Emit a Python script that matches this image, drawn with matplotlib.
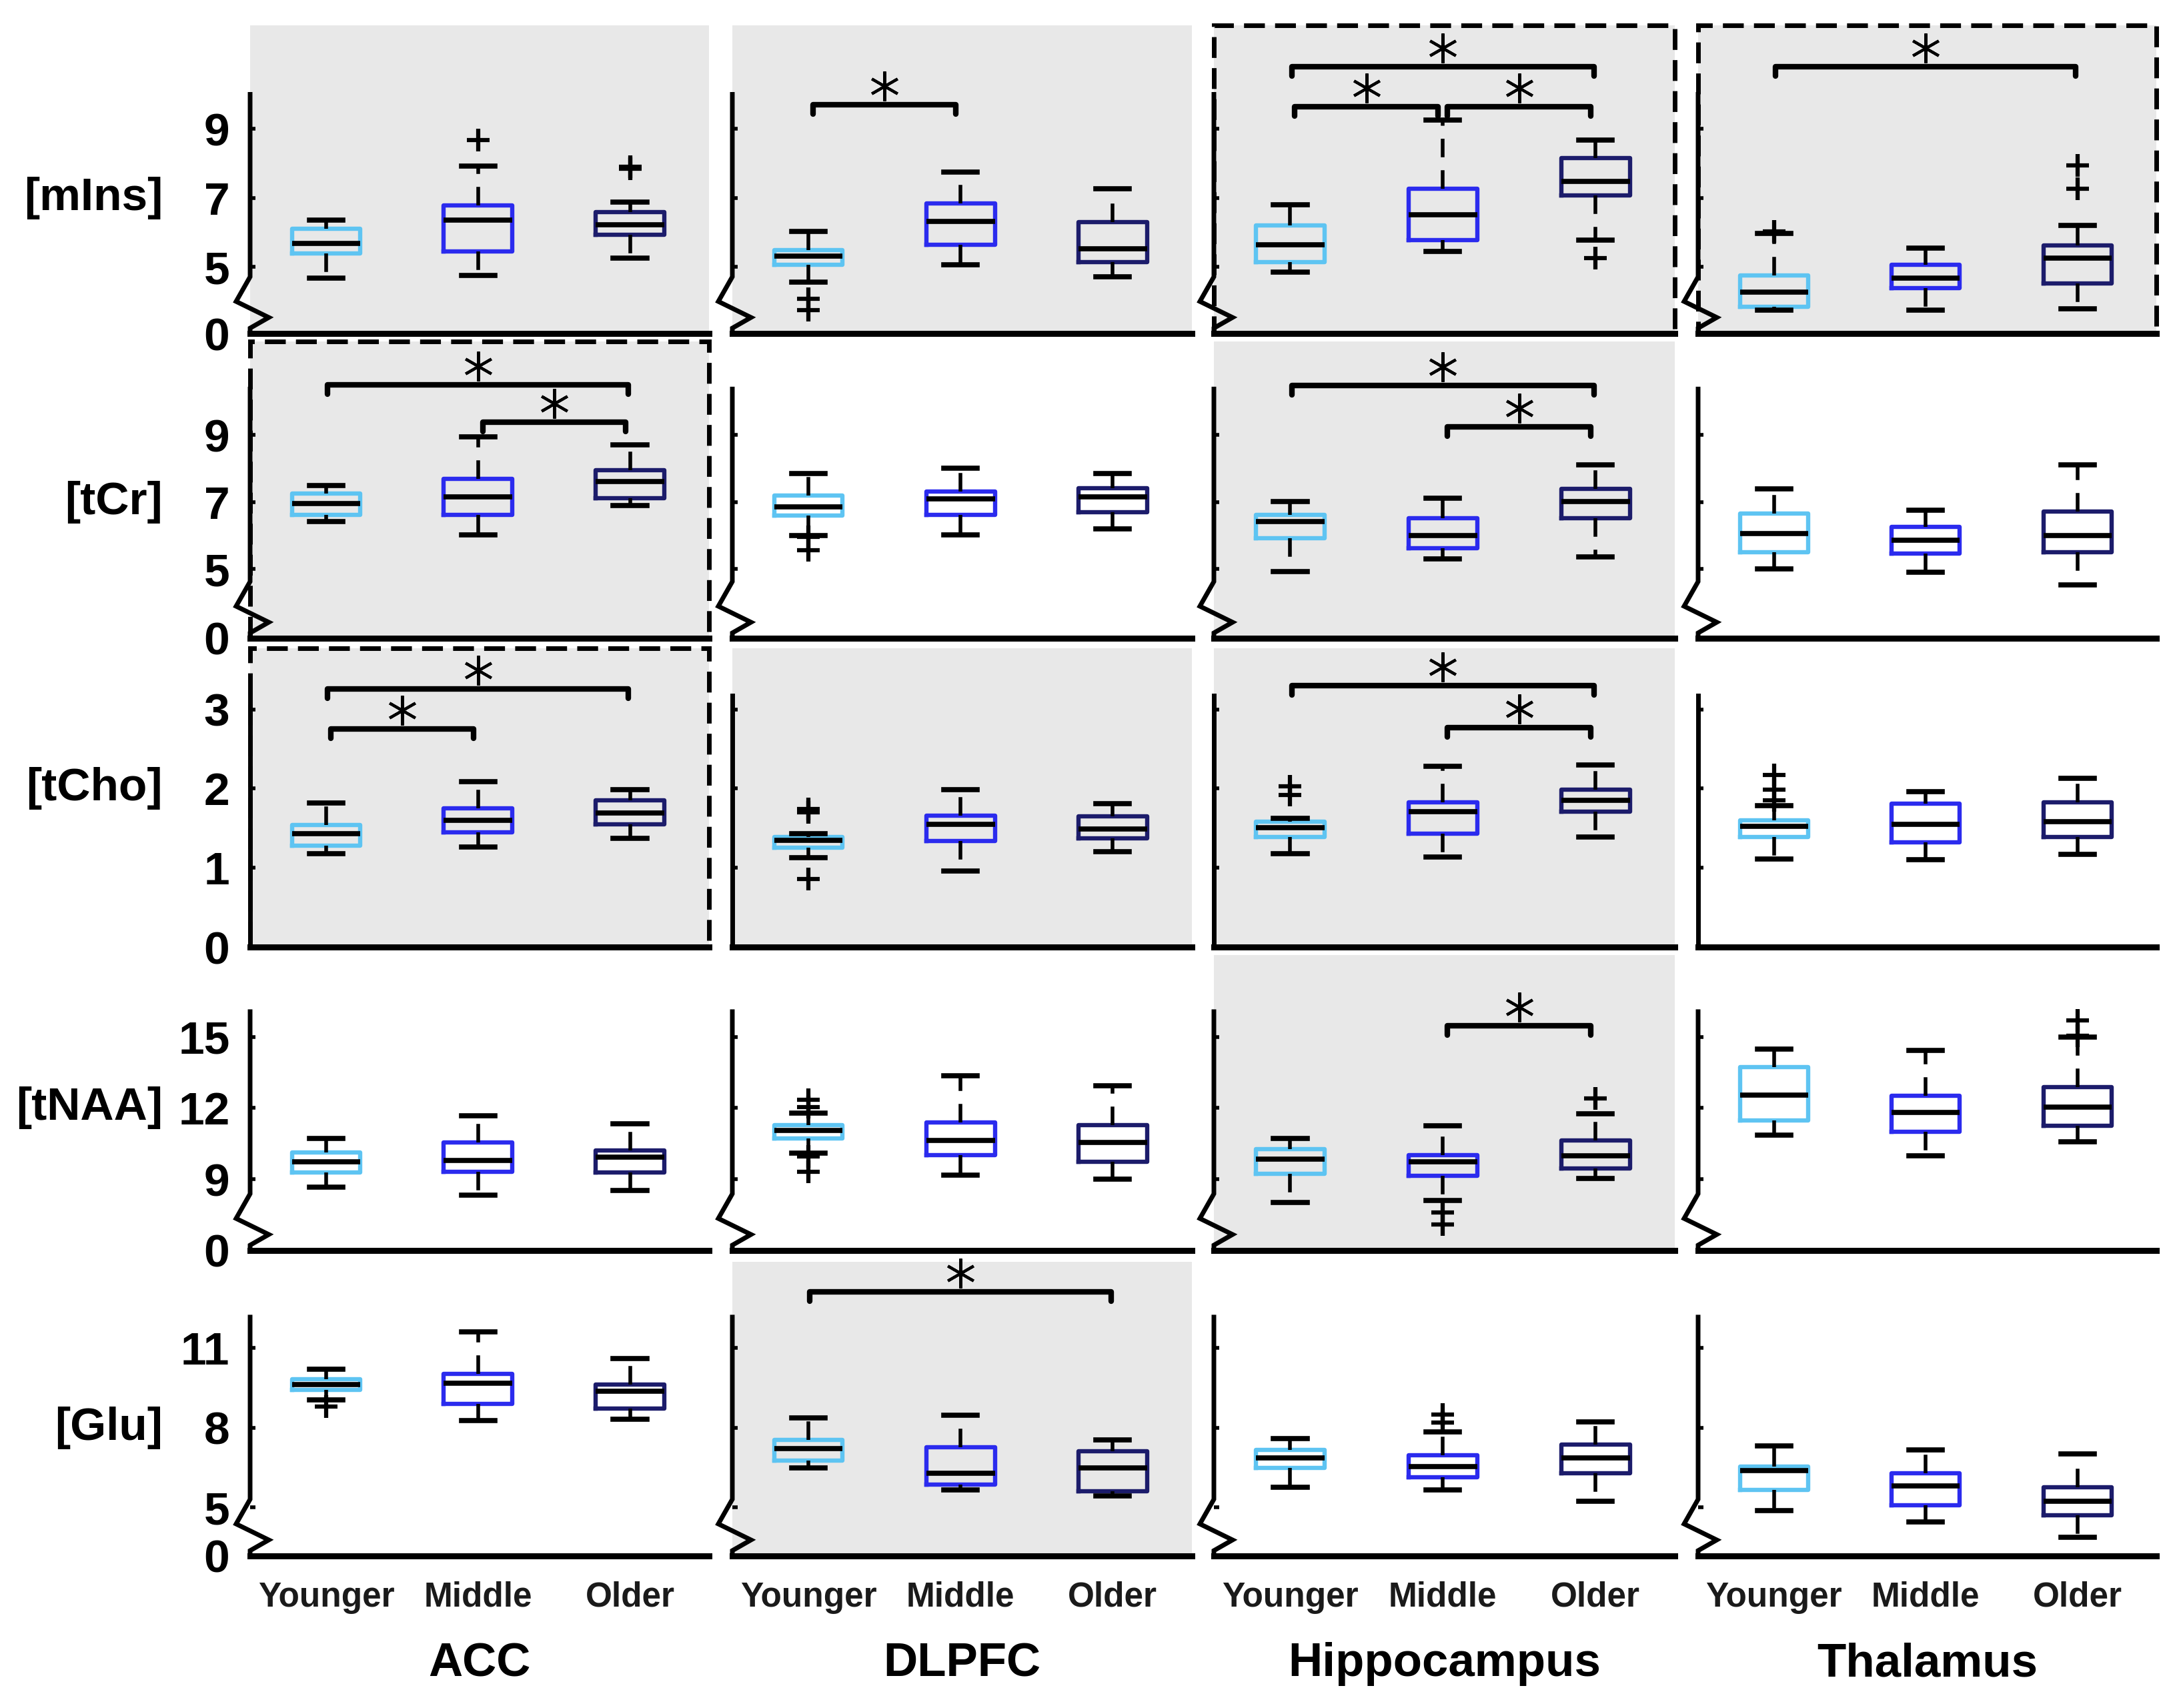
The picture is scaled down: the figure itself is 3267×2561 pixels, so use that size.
import matplotlib
matplotlib.use("Agg")
import matplotlib.pyplot as plt
from matplotlib.patches import Rectangle
from matplotlib import transforms

plt.rcParams["font.family"] = ["Liberation Sans", "DejaVu Sans"]

regions = ["ACC", "DLPFC", "Hippocampus", "Thalamus"]
groups = ["Younger", "Middle", "Older"]
metabolites = ["[mIns]", "[tCr]", "[tCho]", "[tNAA]", "[Glu]"]

# -------------------------------------------------
# box statistics: one row per region, one entry per age group
# -------------------------------------------------
mins_q1 = [[5.39, 5.45, 5.93], [5.06, 5.65, 5.13], [5.13, 5.77, 7.07], [3.84, 4.38, 4.52]]
mins_med = [[5.68, 6.35, 6.22], [5.32, 6.32, 5.52], [5.65, 6.52, 7.48], [4.26, 4.67, 5.25]]
mins_q3 = [[6.10, 6.78, 6.58], [5.48, 6.84, 6.30], [6.20, 7.26, 8.15], [4.75, 5.06, 5.62]]
mins_lo = [[4.67, 4.75, 5.25], [4.55, 5.06, 4.71], [4.84, 5.45, 5.77], [3.74, 3.74, 3.78]]
mins_hi = [[6.35, 7.92, 6.87], [6.03, 7.74, 7.26], [6.80, 9.25, 8.67], [5.97, 5.54, 6.20]]
mins_out = [[[], [8.67], [7.84, 7.90]], [[4.07, 3.74], [], []],
            [[], [], [5.25]], [[6.02], [], [7.26, 7.94]]]

tcr_q1 = [[6.61, 6.61, 7.11], [6.59, 6.61, 6.69], [5.92, 5.62, 6.51], [5.50, 5.46, 5.50]]
tcr_med = [[6.95, 7.15, 7.60], [6.85, 7.09, 7.15], [6.41, 5.99, 7.01], [6.05, 5.86, 5.99]]
tcr_q3 = [[7.25, 7.69, 7.95], [7.19, 7.31, 7.41], [6.61, 6.51, 7.39], [6.65, 6.25, 6.71]]
tcr_lo = [[6.41, 6.01, 6.89], [6.00, 6.01, 6.19], [4.92, 5.30, 5.36], [5.00, 4.90, 4.52]]
tcr_hi = [[7.49, 8.94, 8.70], [7.85, 8.00, 7.85], [7.01, 7.11, 8.10], [7.39, 6.75, 8.10]]
tcr_out = [[[], [], []], [[5.95, 5.55], [], []], [[], [], []], [[], [], []]]

tcho_q1 = [[1.28, 1.45, 1.55], [1.25, 1.34, 1.37], [1.39, 1.43, 1.71], [1.39, 1.32, 1.39]]
tcho_med = [[1.43, 1.60, 1.69], [1.35, 1.55, 1.49], [1.51, 1.71, 1.85], [1.52, 1.55, 1.58]]
tcho_q3 = [[1.54, 1.75, 1.85], [1.39, 1.66, 1.65], [1.58, 1.83, 1.99], [1.60, 1.81, 1.83]]
tcho_lo = [[1.18, 1.26, 1.37], [1.13, 0.96, 1.20], [1.18, 1.14, 1.39], [1.11, 1.10, 1.17]]
tcho_hi = [[1.82, 2.09, 1.99], [1.43, 1.99, 1.81], [1.62, 2.28, 2.30], [1.78, 1.96, 2.13]]
tcho_out = [[[], [], []], [[1.70, 1.74, 0.86], [], []],
            [[1.92, 2.03], [], []], [[1.85, 1.99, 2.17], [], []]]

tnaa_q1 = [[9.28, 9.31, 9.28], [10.72, 10.01, 9.73], [9.23, 9.14, 9.45], [11.48, 11.00, 11.25]]
tnaa_med = [[9.73, 9.79, 9.93], [11.06, 10.63, 10.55], [9.85, 9.73, 9.99], [12.55, 11.82, 12.04]]
tnaa_q3 = [[10.13, 10.55, 10.21], [11.28, 11.39, 11.28], [10.27, 10.01, 10.63], [13.73, 12.52, 12.89]]
tnaa_lo = [[8.66, 8.32, 8.52], [10.10, 9.17, 9.00], [8.01, 8.10, 9.03], [10.86, 9.99, 10.58]]
tnaa_hi = [[10.72, 11.68, 11.34], [11.80, 13.37, 12.94], [10.72, 11.25, 11.76], [14.49, 14.44, 15.00]]
tnaa_out = [[[], [], []], [[12.05, 12.35, 9.95, 9.30], [], []],
            [[], [7.60, 7.10], [12.41]], [[], [], [15.05, 15.70]]]

glu_q1 = [[9.41, 8.89, 8.73], [6.75, 5.86, 5.60], [6.49, 6.12, 6.28], [5.65, 5.08, 4.71]]
glu_med = [[9.62, 9.67, 9.36], [7.22, 6.28, 6.49], [6.85, 6.54, 6.85], [6.38, 5.81, 5.23]]
glu_q3 = [[9.83, 10.03, 9.62], [7.53, 7.27, 7.11], [7.17, 6.96, 7.37], [6.54, 6.28, 5.76]]
glu_lo = [[9.04, 8.26, 8.31], [6.49, 5.65, 5.44], [5.76, 5.65, 5.23], [4.87, 4.45, 3.88]]
glu_hi = [[10.19, 11.60, 10.61], [8.37, 8.47, 7.53], [7.58, 7.84, 8.21], [7.32, 7.17, 7.00]]
glu_out = [[[8.80], [], []], [[], [], []], [[], [8.20, 8.50], []], [[], [], []]]

q1_all = [mins_q1, tcr_q1, tcho_q1, tnaa_q1, glu_q1]
med_all = [mins_med, tcr_med, tcho_med, tnaa_med, glu_med]
q3_all = [mins_q3, tcr_q3, tcho_q3, tnaa_q3, glu_q3]
lo_all = [mins_lo, tcr_lo, tcho_lo, tnaa_lo, glu_lo]
hi_all = [mins_hi, tcr_hi, tcho_hi, tnaa_hi, glu_hi]
out_all = [mins_out, tcr_out, tcho_out, tnaa_out, glu_out]

# significance brackets: (metabolite row, region col, group a, group b, height)
brackets = [
    (0, 1, 0, 1, 9.7), (0, 2, 0, 2, 10.8), (0, 2, 0, 1, 9.64), (0, 2, 1, 2, 9.64),
    (0, 3, 0, 2, 10.8),
    (1, 0, 0, 2, 10.5), (1, 0, 1, 2, 9.38), (1, 2, 0, 2, 10.47), (1, 2, 1, 2, 9.25),
    (2, 0, 0, 2, 3.26), (2, 0, 0, 1, 2.75), (2, 2, 0, 2, 3.3), (2, 2, 1, 2, 2.77),
    (3, 2, 1, 2, 15.48),
    (4, 1, 0, 2, 13.1),
]

# y axis per metabolite row
row_ylim = [(3.07, 12.0), (2.93, 11.79), (0.0, 3.77), (5.99, 18.46), (3.17, 14.24)]
row_spine_top = [10.0, 10.37, 3.17, 16.07, 12.16]
row_ticks = [[5, 7, 9], [5, 7, 9], [0, 1, 2, 3], [9, 12, 15], [5, 8, 11]]
row_break = [True, True, False, True, True]
row_label_y = [7, 7, 2, 12, 8]

gray_panel = [[1, 1, 1, 1], [1, 0, 1, 0], [1, 1, 1, 0], [0, 0, 1, 0], [0, 1, 0, 0]]
dashed_panel = [[0, 0, 1, 1], [1, 0, 0, 0], [1, 0, 0, 0], [0, 0, 0, 0], [0, 0, 0, 0]]

box_colors = ["#5EC4F2", "#2B2BEE", "#1C1C6B"]

# layout in pixels
W, H = 3267, 2561
col_px = [(375, 1063), (1098, 1787), (1820, 2511), (2546, 3233)]
row_px = [(38, 500), (512, 957), (972, 1420), (1432, 1875), (1892, 2333)]

fig = plt.figure(figsize=(W / 100, H / 100), dpi=100)

axes = {}
for r in range(5):
    ybot, ytop = row_ylim[r]
    for c in range(4):
        x0, x1 = col_px[c]
        y0, y1 = row_px[r]
        wp, hp = x1 - x0, y1 - y0
        ax = fig.add_axes([x0 / W, 1 - y1 / H, wp / W, hp / H])
        axes[(r, c)] = ax
        ax.set_facecolor("#E8E8E8" if gray_panel[r][c] else "white")

        stats = []
        for g in range(3):
            stats.append({
                "med": med_all[r][c][g], "q1": q1_all[r][c][g], "q3": q3_all[r][c][g],
                "whislo": lo_all[r][c][g], "whishi": hi_all[r][c][g],
                "fliers": out_all[r][c][g],
            })
        bp = ax.bxp(stats, positions=[1, 2, 3], widths=0.45, capwidths=[0.22] * 3,
                    medianprops=dict(color="black", lw=5.5),
                    whiskerprops=dict(color="black", lw=4, linestyle=(0, (5, 3.5))),
                    capprops=dict(color="black", lw=5.5),
                    flierprops=dict(marker="+", markersize=24, markeredgewidth=4.5,
                                    markeredgecolor="black"))
        for box, col in zip(bp["boxes"], box_colors):
            box.set_color(col)
            box.set_linewidth(4.6)

        ax.set_xlim(0.5, 3.52)
        ax.set_ylim(ybot, ytop)
        for side in ["top", "right", "left"]:
            ax.spines[side].set_visible(False)
        ax.spines["bottom"].set_linewidth(6.5)

        # left axis line with break mark
        top_f = (row_spine_top[r] - ybot) / (ytop - ybot)
        if row_break[r]:
            xs = [0, 0, -21 / wp, 28 / wp, 0, 0]
            ys = [top_f, 85 / hp, 48 / hp, 24 / hp, 8 / hp, 0]
        else:
            xs, ys = [0, 0], [top_f, 0]
        ax.plot(xs, ys, transform=ax.transAxes, color="black", lw=5,
                clip_on=False, solid_joinstyle="miter")

        if row_break[r]:
            ax.set_yticks([ybot] + row_ticks[r])
            ax.set_yticklabels(["0"] + [str(t) for t in row_ticks[r]])
        else:
            ax.set_yticks(row_ticks[r])
            ax.set_yticklabels([str(t) for t in row_ticks[r]])
        ax.tick_params(axis="y", direction="in", length=6, width=4, pad=22,
                       labelsize=50, labelleft=(c == 0))
        for lab in ax.get_yticklabels():
            lab.set_fontweight("bold")

        ax.set_xticks([1, 2, 3])
        if r == 4:
            ax.set_xticklabels(groups, fontsize=37, fontweight="bold", color="#1a1a1a")
            ax.tick_params(axis="x", length=0, pad=27)
        else:
            ax.set_xticklabels([])
            ax.tick_params(axis="x", length=0)

        if dashed_panel[r][c]:
            ax.add_patch(Rectangle((0, 0), 1, 1, transform=ax.transAxes, fill=False,
                                   edgecolor="black", lw=5, linestyle=(0, (4.5, 2.2)),
                                   clip_on=False, zorder=5))

        if c == 0:
            tr = transforms.blended_transform_factory(fig.transFigure, ax.transData)
            ax.text(244 / W, row_label_y[r], metabolites[r], transform=tr,
                    ha="right", va="center", fontsize=50, fontweight="bold")

# significance brackets
for r, c, ga, gb, yb in brackets:
    ax = axes[(r, c)]
    ybot, ytop = row_ylim[r]
    hp = row_px[r][1] - row_px[r][0]
    hook = 14 * (ytop - ybot) / hp
    inset = 0.03 if gb - ga == 1 else 0.01
    xa, xb = ga + 1 + inset, gb + 1 - inset
    ax.plot([xa, xa, xb, xb], [yb - hook, yb, yb, yb - hook], color="black", lw=6,
            clip_on=False, solid_capstyle="round", solid_joinstyle="round")
    star_tr = transforms.offset_copy(ax.transData, fig=fig, x=0, y=28, units="dots")
    ax.plot([(xa + xb) / 2], [yb], marker=(6, 2, 0), markersize=32, markeredgewidth=3,
            color="black", transform=star_tr, clip_on=False)

# region names under the columns
for c in range(4):
    x0, x1 = col_px[c]
    fig.text((x0 + x1) / 2 / W, 1 - 2495 / H, regions[c], ha="center", va="center",
             fontsize=51, fontweight="bold")

fig.savefig("out.png", dpi=100)
